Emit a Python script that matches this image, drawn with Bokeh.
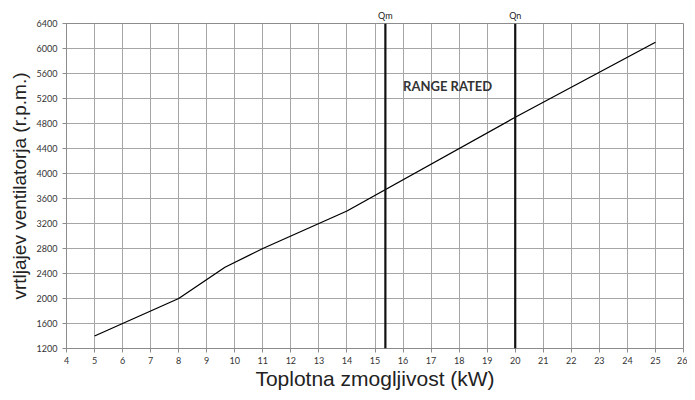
from bokeh.plotting import figure
from bokeh.models import Range1d, FixedTicker, Label, Span, LinearAxis
from bokeh.embed import file_html
from bokeh.resources import INLINE

# data
capacity_kw = [5, 6, 7, 8, 9.65, 11, 12, 13, 14, 20, 25]
fan_rpm = [1400, 1600, 1800, 2000, 2500, 2800, 3000, 3200, 3400, 4900, 6100]
x_ticks = list(range(4, 27))
y_ticks = list(range(1200, 6401, 400))
q_markers = [15.37, 20.0]
q_labels = ["Qm", "Qn"]
range_label = "RANGE RATED"
range_label_pos = (16.0, 5400)

p = figure(width=687, height=392, output_backend="svg", toolbar_location=None,
           x_range=Range1d(4, 26), y_range=Range1d(1200, 6400),
           min_border_left=66, min_border_right=4, min_border_top=23, min_border_bottom=30)

p.outline_line_color = "#8c8c8c"
p.outline_line_width = 1
p.background_fill_color = "white"
p.border_fill_color = "white"

p.xaxis.ticker = FixedTicker(ticks=x_ticks)
p.yaxis.ticker = FixedTicker(ticks=y_ticks)
for ax in (p.xaxis[0], p.yaxis[0]):
    ax.axis_line_color = "#8c8c8c"
    ax.major_tick_line_color = "#8c8c8c"
    ax.minor_tick_line_color = None
    ax.major_tick_out = 4
    ax.major_tick_in = 0
    ax.major_label_text_font = "Lato"
    ax.major_label_text_font_size = "9px"
    ax.major_label_text_color = "#333333"
    ax.axis_label_text_font = "Liberation Sans"
    ax.axis_label_text_font_style = "normal"
    ax.axis_label_text_color = "#222222"

p.xaxis.axis_label = "Toplotna zmogljivost (kW)"
p.yaxis.axis_label = "vrtljajev ventilatorja (r.p.m.)"
p.xaxis.axis_label_text_font_size = "21px"
p.yaxis.axis_label_text_font_size = "19px"
p.xaxis.major_label_standoff = 4
p.xaxis.axis_label_standoff = 0
p.yaxis.major_label_standoff = 5
p.yaxis.axis_label_standoff = 4

# marker labels above the frame
top_axis = LinearAxis(ticker=FixedTicker(ticks=q_markers),
                      major_label_overrides={q_markers[0]: q_labels[0], q_markers[1]: q_labels[1]})
top_axis.axis_line_color = None
top_axis.major_tick_line_color = None
top_axis.minor_tick_line_color = None
top_axis.major_tick_out = 0
top_axis.major_tick_in = 0
top_axis.major_label_standoff = 3
top_axis.major_label_text_font = "Lato"
top_axis.major_label_text_font_size = "9px"
top_axis.major_label_text_color = "#222222"
p.add_layout(top_axis, "above")

p.xgrid.ticker = FixedTicker(ticks=x_ticks)
p.ygrid.ticker = FixedTicker(ticks=y_ticks)
p.xgrid.grid_line_color = "#a6a6a6"
p.ygrid.grid_line_color = "#a6a6a6"
p.xgrid.grid_line_width = 1
p.ygrid.grid_line_width = 1

p.line(capacity_kw, fan_rpm, line_color="black", line_width=1.3)

for qx in q_markers:
    p.add_layout(Span(location=qx, dimension="height", line_color="#111111", line_width=2.2))

p.add_layout(Label(x=range_label_pos[0], y=range_label_pos[1], text=range_label,
                   text_align="left", text_baseline="middle", text_font="Lato",
                   text_font_style="bold", text_font_size="13px", text_color="#333333"))

open("out.html", "w").write(file_html(p, INLINE))
